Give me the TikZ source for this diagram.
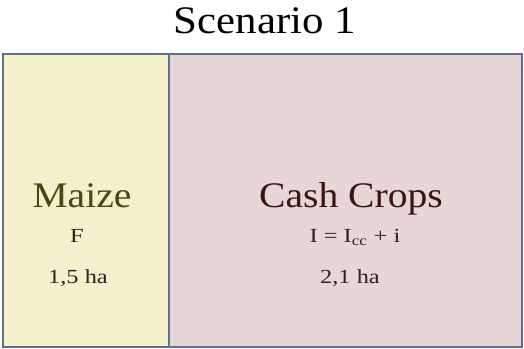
\documentclass[tikz,border=0pt]{standalone}
\usepackage{fontspec}
\setmainfont{Liberation Serif}
\usetikzlibrary{calc}
\definecolor{maizefill}{HTML}{F3F0CB}
\definecolor{maizetext}{HTML}{4A4812}
\definecolor{cashfill}{HTML}{E6D6D6}
\definecolor{cashtext}{HTML}{3C1414}
\definecolor{edgeblue}{HTML}{5C7290}
\begin{document}
\begin{tikzpicture}[x=1pt,y=-1pt]
            \tikzstyle{field}=[draw=edgeblue,line width=1.5pt]
            \tikzstyle{crop}=[anchor=base,inner sep=0pt,font=\fontsize{36}{36}\selectfont,xscale=1.1]
            \tikzstyle{info}=[anchor=base,inner sep=0pt,font=\fontsize{20}{20}\selectfont,text=black!85,xscale=1.22]
            \useasboundingbox (0,0) rectangle (524,348);
            \fill[white] (0,0) rectangle (524,348);
            \node (title) at (265,33) [anchor=base,inner sep=0pt,font=\fontsize{39}{39}\selectfont,xscale=1.1] {Scenario 1};
            % the two fields
            \draw[field,fill=maizefill] (3,54) rectangle (169,347);
            \draw[field,fill=cashfill] (169,54) rectangle (522,347);
            \node (maize) at (82,207) [crop,text=maizetext] {Maize};
            \node (f) at (77,242) [info] {F};
            \node (maizeha) at (78,283) [info] {1,5 ha};
            \node (cash) at (351,207) [crop,text=cashtext] {Cash Crops};
            \node (income) at (355,242) [info] {I = I\textsubscript{cc} + i};
            \node (cashha) at (350,283) [info] {2,1 ha};
        \end{tikzpicture}
\end{document}
